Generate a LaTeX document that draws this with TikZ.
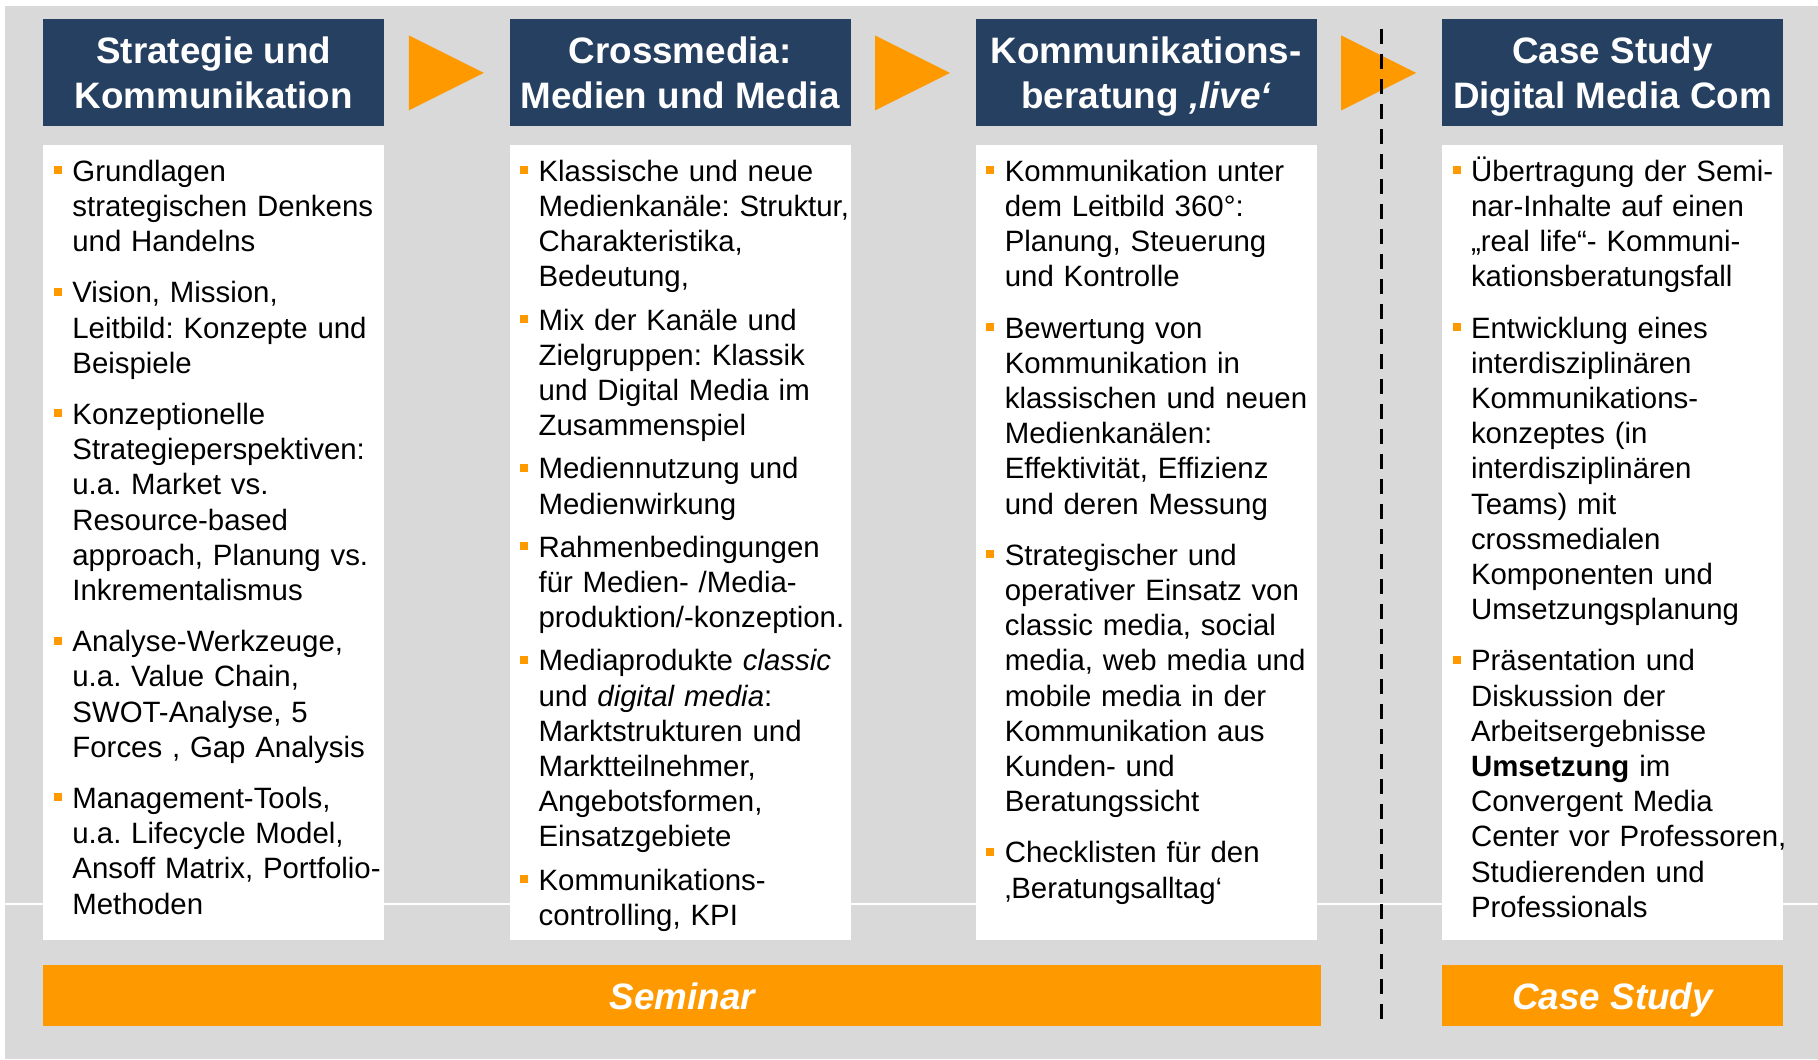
\documentclass[tikz,border=0pt]{standalone}
\usepackage{fontspec}
\setmainfont{Liberation Sans}
\usepackage{enumitem}
\usepackage{tikz}
\usetikzlibrary{positioning}
\definecolor{headcolor}{RGB}{38,64,97}
\definecolor{accentcolor}{RGB}{255,153,0}
\definecolor{bgcolor}{RGB}{217,217,217}
\frenchspacing

% strut: height 18pt, depth 4.5pt
\newcommand{\capstrut}{\rule[-4.5pt]{0pt}{22.5pt}}
\newcommand{\sqbullet}{\rule{0pt}{14pt}\textcolor{accentcolor}{\rule[3.6pt]{4pt}{4pt}}}
\newenvironment{topics}[1][8pt]{%
  \begin{itemize}[label=\sqbullet, leftmargin=9.25pt, labelwidth=4pt, labelsep=5.25pt,
    topsep=0pt, partopsep=0pt, parsep=0pt, itemsep=#1]}{\end{itemize}}

\begin{document}
\begin{tikzpicture}[
    node distance=62.2pt,
    head/.style={rectangle, fill=headcolor, text=white, align=center, inner sep=0pt,
      minimum width=170.5pt, minimum height=53.5pt, font=\fontsize{18.4}{22.5}\selectfont\bfseries},
    panel/.style={rectangle, fill=white, inner sep=0pt, minimum width=170.5pt, minimum height=397.5pt},
    listtext/.style={inner sep=0pt, text width=176pt, font=\fontsize{14.7}{17.6}\selectfont},
    bar/.style={rectangle, fill=accentcolor, text=white, inner sep=0pt, minimum height=30.5pt,
      font=\fontsize{18.4}{22.5}\selectfont\bfseries\itshape},
    tri/.style={fill=accentcolor},
    divider/.style={line width=1.75pt, dash pattern=on 7.5pt off 5pt}
]

% Background
\useasboundingbox (0,0) rectangle (909pt,-529.5pt);
\fill[bgcolor] (2.5pt,-3pt) rectangle (909pt,-529.5pt);
\draw[white, line width=0.6pt] (2.5pt,-452pt) -- (909pt,-452pt);

% Row 1: Headers
\node[head, anchor=north west] (h1) at (21.5pt,-9.5pt) {\capstrut Strategie und\\\capstrut Kommunikation};
\node[head, right=of h1] (h2) {\capstrut Crossmedia:\\\capstrut Medien und Media};
\node[head, right=of h2] (h3) {\capstrut Kommunikations-\\\capstrut beratung \textit{‚live‘}};
\node[head, right=of h3] (h4) {\capstrut Case Study\\\capstrut Digital Media Com};

% Arrows between headers
\foreach \h in {h1,h2,h3}
  \fill[tri] ([xshift=12pt,yshift=18.75pt]\h.east) -- ++(37.5pt,-18.75pt) -- ++(-37.5pt,-18.75pt) -- cycle;

% Row 2: Panels
\node[panel, below=9pt of h1] (b1) {};
\node[panel, below=9pt of h2] (b2) {};
\node[panel, below=9pt of h3] (b3) {};
\node[panel, below=9pt of h4] (b4) {};

% Panel texts
\node[listtext, below right=0.45pt and 5.25pt of b1.north west] (t1) {%
\begin{topics}
\item Grundlagen\\ strategischen Denkens\\ und Handelns
\item Vision, Mission,\\ Leitbild: Konzepte und\\ Beispiele
\item Konzeptionelle\\ Strategieperspektiven:\\ u.a. Market vs.\\ Resource-based\\ approach, Planung vs.\\ Inkrementalismus
\item Analyse-Werkzeuge,\\ u.a. Value Chain,\\ SWOT-Analyse, 5\\ Forces , Gap Analysis
\item Management-Tools,\\ u.a. Lifecycle Model,\\ Ansoff Matrix, Portfolio-\\ Methoden
\end{topics}};

\node[listtext, below right=0.45pt and 5.25pt of b2.north west] (t2) {%
\begin{topics}[4pt]
\item Klassische und neue\\ Medienkanäle: Struktur,\\ Charakteristika,\\ Bedeutung,
\item Mix der Kanäle und\\ Zielgruppen: Klassik\\ und Digital Media im\\ Zusammenspiel
\item Mediennutzung und\\ Medienwirkung
\item Rahmenbedingungen\\ für Medien- /Media-\\ produktion/-konzeption.
\item Mediaprodukte \textit{classic}\\ und \textit{digital media}:\\ Marktstrukturen und\\ Marktteilnehmer,\\ Angebotsformen,\\ Einsatzgebiete
\item Kommunikations-\\ controlling, KPI
\end{topics}};

\node[listtext, below right=0.45pt and 5.25pt of b3.north west] (t3) {%
\begin{topics}
\item Kommunikation unter\\ dem Leitbild 360°:\\ Planung, Steuerung\\ und Kontrolle
\item Bewertung von\\ Kommunikation in\\ klassischen und neuen\\ Medienkanälen:\\ Effektivität, Effizienz\\ und deren Messung
\item Strategischer und\\ operativer Einsatz von\\ classic media, social\\ media, web media und\\ mobile media in der\\ Kommunikation aus\\ Kunden- und\\ Beratungssicht
\item Checklisten für den\\ ‚Beratungsalltag‘
\end{topics}};

\node[listtext, below right=0.45pt and 5.25pt of b4.north west] (t4) {%
\begin{topics}
\item Übertragung der Semi-\\ nar-Inhalte auf einen\\ „real life“- Kommuni-\\ kationsberatungsfall
\item Entwicklung eines\\ interdisziplinären\\ Kommunikations-\\ konzeptes (in\\ interdisziplinären\\ Teams) mit\\ crossmedialen\\ Komponenten und\\ Umsetzungsplanung
\item Präsentation und\\ Diskussion der\\ Arbeitsergebnisse\\ \textbf{Umsetzung} im\\ Convergent Media\\ Center vor Professoren,\\ Studierenden und\\ Professionals
\end{topics}};

% Row 3: Bars
\node[bar, minimum width=639pt, below right=12pt and 0pt of b1.south west] (seminar) {\capstrut Seminar};
\node[bar, minimum width=170.5pt, below=12pt of b4] (casestudy) {\capstrut Case Study};

% Divider
\coordinate (dtop) at (690.75pt,-14.5pt);
\coordinate (dbot) at (690.75pt,-512.5pt);
\draw[divider] (dtop) -- (dbot);

\end{tikzpicture}
\end{document}
